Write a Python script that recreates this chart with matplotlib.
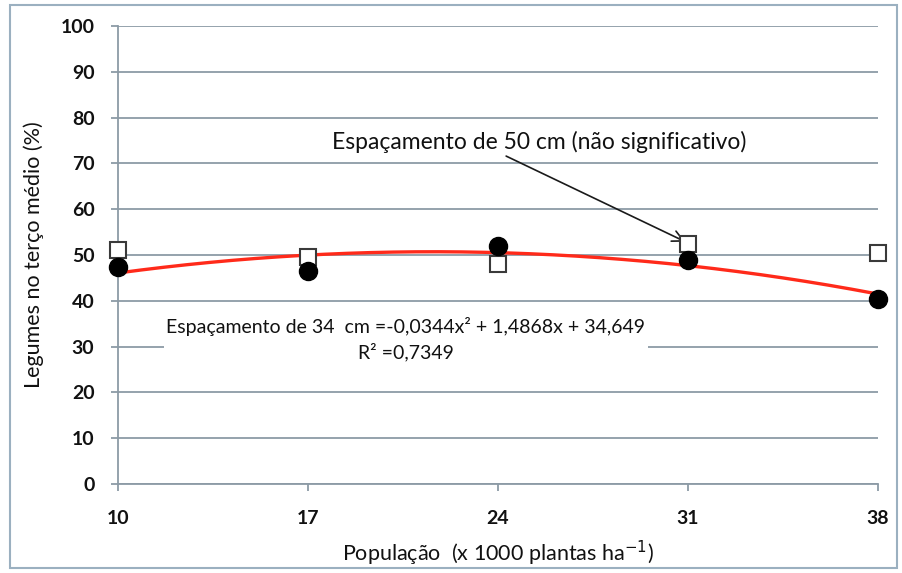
import numpy as np
import matplotlib.pyplot as plt
from matplotlib.patches import Rectangle

plt.rcParams['font.family'] = ['Lato', 'DejaVu Sans']

populacao = [10, 17, 24, 31, 38]
esp_50 = [51.1, 49.6, 48.0, 52.4, 50.4]
esp_34 = [47.4, 46.5, 52.0, 48.9, 40.4]
coef_34 = [-0.0344, 1.4868, 34.649]
yticks = list(range(0, 101, 10))

axis_col = '#8c9ba6'
txt_col = '#111111'

fig = plt.figure(figsize=(9.03, 5.73), dpi=100)
ax = fig.add_axes([0.1307, 0.1553, 0.8416, 0.7993])

# quadratic fit for the 34 cm spacing
xs = np.linspace(10, 38, 200)
ys = np.polyval(coef_34, xs)
ax.plot(xs, ys, color='#ff2a1a', lw=2.4, zorder=3)

ax.plot(populacao, esp_50, ls='none', marker='s', ms=12, mfc='white',
        mec='#3a3a3a', mew=1.5, zorder=4, clip_on=False)
ax.plot(populacao, esp_34, ls='none', marker='o', ms=13, color='black',
        zorder=5, clip_on=False)

ax.set_xlim(10, 38)
ax.set_ylim(0, 100)
ax.set_xticks(populacao)
ax.set_yticks(yticks)
ax.grid(axis='y', color=axis_col, lw=1.3)
ax.set_axisbelow(True)
for side in ['top', 'right']:
    ax.spines[side].set_visible(False)
for side in ['left', 'bottom']:
    ax.spines[side].set_color(axis_col)
    ax.spines[side].set_linewidth(1.3)
ax.tick_params(colors=axis_col, labelcolor=txt_col, labelsize=14, length=5,
               width=1.3)
ax.tick_params(axis='y', pad=12)
ax.tick_params(axis='x', pad=14)
for lbl in ax.get_yticklabels() + ax.get_xticklabels():
    lbl.set_fontweight('bold')

ax.set_xlabel('População  (x 1000 plantas ha$^{-1}$)', fontsize=15.5, labelpad=8,
              color=txt_col)
ax.set_ylabel('Legumes no terço médio (%)', fontsize=15.5, labelpad=12,
              color=txt_col)

# label for the non-significant 50 cm series, arrow pointing at x=31
ax.text(25.5, 74.6, 'Espaçamento de 50 cm (não significativo)', ha='center',
        va='center', fontsize=16.5, color=txt_col)
ax.annotate('', xy=(30.9, 52.9), xytext=(24.3, 71.6),
            arrowprops=dict(arrowstyle='->', color='#1a1a1a', lw=1.2,
                            mutation_scale=20, shrinkA=0, shrinkB=0))

ax.text(20.6, 31.6, 'Espaçamento de 34  cm =-0,0344x² + 1,4868x + 34,649\nR² =0,7349',
        ha='center', va='center', fontsize=14, linespacing=1.45, color=txt_col,
        bbox=dict(facecolor='white', edgecolor='none', pad=2), zorder=6)

# outer chart border
fig.patches.append(Rectangle((0.011, 0.009), 0.982, 0.983, transform=fig.transFigure,
                             fill=False, edgecolor='#9bb0c0', lw=1.5))

fig.savefig('out.png', dpi=100)
